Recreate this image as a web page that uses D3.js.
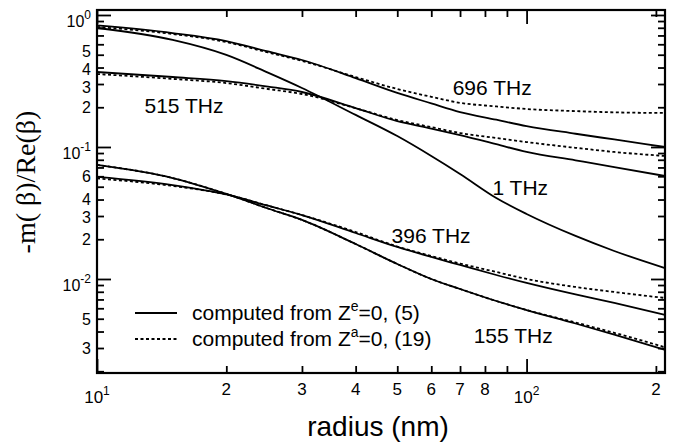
<!DOCTYPE html>
<html lang="en">
<head>
  <meta charset="utf-8">
  <title>-m(β)/Re(β) vs radius</title>
  <script src="https://d3js.org/d3.v7.min.js"></script>
  <style>
    body { margin: 0; background: #fff; }
    text { font-family: "Liberation Sans", Arial, sans-serif; fill: #000; }
  </style>
</head>
<body>
<svg id="chart"></svg>
<script>

// ---------------------------------------------------------------- //
// Data

var radius = [10, 15, 20, 25, 30, 40, 50, 60, 70, 85, 100, 130, 160, 210];

var f696_solid  = [0.833, 0.730, 0.635, 0.529, 0.456, 0.333, 0.257, 0.214, 0.184, 0.161, 0.144, 0.126, 0.114, 0.100];
var f696_dotted = [0.811, 0.718, 0.624, 0.520, 0.449, 0.339, 0.275, 0.240, 0.216, 0.203, 0.194, 0.187, 0.183, 0.181];
var f1_solid    = [0.797, 0.647, 0.498, 0.366, 0.280, 0.175, 0.121, 0.0855, 0.0625, 0.0411, 0.0311, 0.0212, 0.0163, 0.0121];
var f515_solid  = [0.370, 0.339, 0.316, 0.287, 0.261, 0.197, 0.157, 0.138, 0.123, 0.105, 0.0917, 0.0792, 0.0705, 0.0603];
var f515_dotted = [0.357, 0.328, 0.305, 0.275, 0.252, 0.197, 0.160, 0.1415, 0.1276, 0.117, 0.109, 0.0986, 0.0917, 0.0855];
var f396_solid  = [0.0593, 0.0515, 0.0437, 0.0359, 0.0305, 0.0223, 0.01748, 0.01468, 0.01277, 0.01072, 0.00933, 0.00763, 0.00658, 0.00534];
var f396_dotted = [0.0578, 0.0507, 0.0437, 0.0359, 0.0305, 0.0227, 0.01763, 0.01494, 0.01310, 0.01130, 0.0100, 0.00870, 0.00797, 0.00718];
var f155_solid  = [0.0731, 0.0582, 0.0441, 0.0342, 0.0280, 0.0184, 0.0130, 0.0100, 0.0084, 0.00681, 0.00582, 0.00460, 0.00379, 0.00290];
var f155_dotted = [0.0731, 0.0582, 0.0441, 0.0342, 0.0280, 0.0184, 0.0130, 0.0100, 0.0084, 0.00681, 0.00582, 0.00468, 0.00391, 0.00304];

// where each curve's name sits (radius, value at the text baseline)
var curveLabels = [
  { text: '696 THz', r: 67.3, v: 0.248 },
  { text: '515 THz', r: 12.9, v: 0.181 },
  { text: '1 THz',   r: 83.3, v: 0.0433 },
  { text: '396 THz', r: 48.5, v: 0.01875 },
  { text: '155 THz', r: 75.3, v: 0.00327 }
];

var xTickLabels = [ {v: 10, base: '10', sup: '1'}, {v: 20, base: '2'}, {v: 30, base: '3'}, {v: 40, base: '4'},
  {v: 50, base: '5'}, {v: 60, base: '6'}, {v: 70, base: '7'}, {v: 80, base: '8'},
  {v: 100, base: '10', sup: '2'}, {v: 200, base: '2'} ];

var yTickLabels = [ {v: 1, base: '10', sup: '0'}, {v: 0.5, base: '5'}, {v: 0.4, base: '4'}, {v: 0.3, base: '3'},
  {v: 0.2, base: '2'}, {v: 0.1, base: '10', sup: '-1'}, {v: 0.06, base: '6'}, {v: 0.04, base: '4'},
  {v: 0.03, base: '3'}, {v: 0.02, base: '2'}, {v: 0.01, base: '10', sup: '-2'}, {v: 0.005, base: '5'},
  {v: 0.003, base: '3'} ];

var legendItems = [ {dash: null, sup: 'e', tail: '=0, (5)'}, {dash: '3,2.5', sup: 'a', tail: '=0, (19)'} ];

// ---------------------------------------------------------------- //
// Layout

var width = 685, height = 444;
var margin = { top: 10, right: 20, bottom: 71, left: 97 };

var svg = d3.select('#chart').attr('width', width).attr('height', height);
svg.append('rect').attr('width', width).attr('height', height).attr('fill', '#fff');

var x = d3.scaleLog().domain([10, 210]).range([margin.left, width - margin.right]);
var y = d3.scaleLog().domain([0.00194, 1.091]).range([height - margin.bottom, margin.top]);

// ---------------------------------------------------------------- //
// Ticks (all pointing into the frame)

function minorValues(scale){
  var d = scale.domain(), out = [];
  for(var e = Math.floor(Math.log10(d[0])); e <= Math.ceil(Math.log10(d[1])); e++){
    for(var k = 2; k <= 9; k++){
      var v = k * Math.pow(10, e);
      if(v > d[0] && v < d[1]) out.push(v);
    }
  }
  return out;
}
function majorValues(scale){
  var d = scale.domain(), out = [];
  for(var e = Math.ceil(Math.log10(d[0])); Math.pow(10, e) <= d[1]; e++) out.push(Math.pow(10, e));
  return out;
}

var axes = [
  { gen: d3.axisTop,    scale: x, tr: [0, height - margin.bottom] },
  { gen: d3.axisBottom, scale: x, tr: [0, margin.top] },
  { gen: d3.axisRight,  scale: y, tr: [margin.left, 0] },
  { gen: d3.axisLeft,   scale: y, tr: [width - margin.right, 0] }
];

axes.forEach(function(a){
  [ {vals: minorValues(a.scale), size: 7}, {vals: majorValues(a.scale), size: 14} ].forEach(function(t){
    var g = svg.append('g').attr('transform', 'translate(' + a.tr + ')')
      .call(a.gen(a.scale).tickValues(t.vals).tickSize(t.size).tickFormat(''));
    g.select('.domain').remove();
    g.selectAll('line').attr('stroke', '#000').attr('stroke-width', 1.8);
  });
});

svg.append('rect')
  .attr('x', margin.left).attr('y', margin.top)
  .attr('width', width - margin.left - margin.right)
  .attr('height', height - margin.top - margin.bottom)
  .attr('fill', 'none').attr('stroke', '#000').attr('stroke-width', 2.2);

// x tick labels
var xl = svg.append('g').selectAll('text').data(xTickLabels).enter().append('text')
  .attr('x', d => x(d.v)).attr('y', d => d.sup ? 403 : 395)
  .attr('text-anchor', 'middle').attr('font-size', 17);
xl.append('tspan').text(d => d.base);
xl.filter(d => d.sup).append('tspan').attr('font-size', 12).attr('dy', -8).text(d => d.sup);

// y tick labels: minor digits are pushed apart a little where the ticks crowd
var yLab = yTickLabels.map(d => ({ d: d, c: y(d.v) + (d.sup ? 6 : 0) }));
var minGap = 18;
for(var it = 0; it < 30; it++){
  for(var i = 1; i < yLab.length; i++){
    var a = yLab[i - 1], b = yLab[i];
    if(a.d.sup || b.d.sup) continue;
    var gap = b.c - a.c;
    if(gap < minGap){ var s = (minGap - gap) / 2; a.c -= s; b.c += s; }
  }
}
var yl = svg.append('g').selectAll('text').data(yLab).enter().append('text')
  .attr('x', 91).attr('y', p => p.c + 6)
  .attr('text-anchor', 'end').attr('font-size', 16);
yl.append('tspan').text(p => p.d.base);
yl.filter(p => p.d.sup).append('tspan').attr('font-size', 12).attr('dy', -8).text(p => p.d.sup);

// axis titles
svg.append('text')
  .attr('x', x(10) + (x(210) - x(10)) / 2 - 3).attr('y', 436)
  .attr('text-anchor', 'middle').attr('font-size', 28)
  .text('radius (nm)');

svg.append('text')
  .attr('transform', 'translate(35,182) rotate(-90)')
  .attr('text-anchor', 'middle').attr('font-size', 28)
  .style('font-family', '"Liberation Serif", "Times New Roman", serif')
  .text('-m( β)/Re(β)');

// ---------------------------------------------------------------- //
// Curves

var series = [
  { vals: f696_solid,  dash: null }, { vals: f696_dotted, dash: '3,2.5' },
  { vals: f1_solid,    dash: null },
  { vals: f515_solid,  dash: null }, { vals: f515_dotted, dash: '3,2.5' },
  { vals: f396_solid,  dash: null }, { vals: f396_dotted, dash: '3,2.5' },
  { vals: f155_solid,  dash: null }, { vals: f155_dotted, dash: '3,2.5' }
];

var lineGen = d3.line().x(d => x(d[0])).y(d => y(d[1])).curve(d3.curveMonotoneX);

svg.append('g').selectAll('path').data(series).enter().append('path')
  .attr('d', s => lineGen(radius.map((r, i) => [r, s.vals[i]])))
  .attr('fill', 'none').attr('stroke', '#000').attr('stroke-width', 1.8)
  .attr('stroke-dasharray', s => s.dash);

svg.append('g').selectAll('text').data(curveLabels).enter().append('text')
  .attr('x', d => x(d.r)).attr('y', d => y(d.v))
  .attr('font-size', 21).text(d => d.text);

// ---------------------------------------------------------------- //
// Legend

var leg = svg.append('g').selectAll('g').data(legendItems).enter().append('g')
  .attr('transform', (d, i) => 'translate(0,' + (313 + i * 26) + ')');
leg.append('line').attr('x1', 135).attr('x2', 177)
  .attr('stroke', '#000').attr('stroke-width', 1.8).attr('stroke-dasharray', d => d.dash);
var lt = leg.append('text').attr('x', 192).attr('y', 7).attr('font-size', 21);
lt.append('tspan').text('computed from Z');
lt.append('tspan').attr('font-size', 14).attr('dy', -9).text(d => d.sup);
lt.append('tspan').attr('dy', 9).text(d => d.tail);

</script>
</body>
</html>
